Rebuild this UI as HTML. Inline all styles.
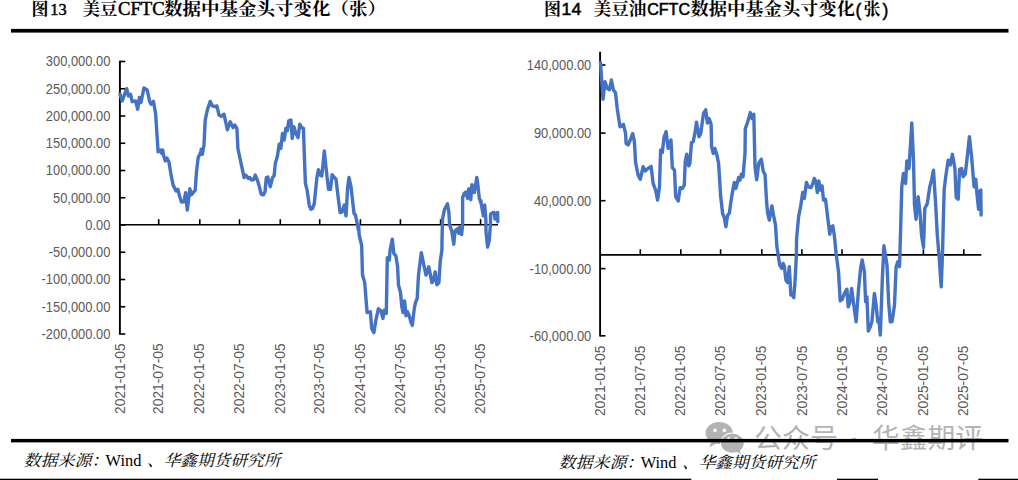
<!DOCTYPE html>
<html><head><meta charset="utf-8"><title>chart</title>
<style>
html,body{margin:0;padding:0;background:#fff;}
body{width:1018px;height:480px;overflow:hidden;font-family:"Liberation Sans",sans-serif;}
svg{display:block;}
.yl{font-family:"Liberation Sans",sans-serif;font-size:14.8px;fill:#595959;text-anchor:end;}
.xl{font-family:"Liberation Sans",sans-serif;font-size:14.4px;fill:#595959;text-anchor:end;}
.tb{font-family:"Liberation Serif",serif;fill:#000;}
.ts{font-family:"Liberation Sans",sans-serif;font-weight:bold;fill:#000;}
.sr{font-family:"Liberation Serif",serif;fill:#000;}
.tc{font-family:"Liberation Serif","Noto Serif CJK SC",serif;font-weight:bold;fill:#000;font-size:17px;}
.sc{font-family:"Liberation Serif","Noto Serif CJK SC",serif;font-style:italic;fill:#000;font-size:16px;}
.wm{font-family:"Liberation Sans","Noto Sans CJK SC",sans-serif;fill:#b3b3b3;font-size:27px;}
</style></head><body>
<svg width="1018" height="480" viewBox="0 0 1018 480" role="img" aria-label="图13 美豆CFTC数据中基金头寸变化（张） 图14 美豆油CFTC数据中基金头寸变化(张) 数据来源：Wind、华鑫期货研究所">
<rect width="1018" height="480" fill="#fff"/>
<g fill="#b3b3b3"><ellipse cx="719.2" cy="433" rx="13.6" ry="10.9"/><path d="M711.5,441 L709.3,447.3 L717,443.2 Z"/><ellipse cx="732.4" cy="443.2" rx="12.3" ry="10.6" fill="#fff"/><ellipse cx="732.4" cy="443.2" rx="11.3" ry="9.6"/><path d="M736,451.5 L740.8,454 L739.8,449 Z"/><circle cx="715" cy="430.4" r="1.8" fill="#fff"/><circle cx="724.4" cy="430.4" r="1.8" fill="#fff"/><circle cx="728.8" cy="438.6" r="1.4" fill="#fff"/><circle cx="735.9" cy="438.6" r="1.4" fill="#fff"/><text class="wm" x="754" y="447.5" textLength="84" lengthAdjust="spacingAndGlyphs">公众号</text><text class="wm" x="872" y="447.5" textLength="111" lengthAdjust="spacingAndGlyphs">华鑫期评</text><circle cx="854.2" cy="439.8" r="2.1"/></g><rect x="11" y="28.9" width="997.5" height="3.7" fill="#000"/><rect x="11" y="438.9" width="997.5" height="3.5" fill="#000"/><rect x="0" y="478.7" width="691.3" height="1.3" fill="#000"/><rect x="837" y="478.7" width="41" height="1.3" fill="#000"/><rect x="978.3" y="478.7" width="39.700000000000045" height="1.3" fill="#000"/><text class="tc" x="31.5" y="15.2">图</text><text class="tc" x="82.5" y="15.2" textLength="35" lengthAdjust="spacingAndGlyphs">美豆</text><text class="tc" x="164" y="15.2" textLength="222" lengthAdjust="spacingAndGlyphs">数据中基金头寸变化（张）</text><text class="tb" x="50.2" y="14.7" font-size="16.4px" stroke="#000" stroke-width="0.45">13</text><text class="tb" x="118.0" y="15.0" font-size="18.2px" textLength="46.6" lengthAdjust="spacingAndGlyphs" stroke="#000" stroke-width="0.45">CFTC</text><text class="tc" x="544" y="15.2">图</text><text class="tc" x="593.5" y="15.2" textLength="53" lengthAdjust="spacingAndGlyphs">美豆油</text><text class="ts" x="561.6" y="15.2" font-size="16.8px" textLength="19.6" lengthAdjust="spacingAndGlyphs" style="font-weight:normal" stroke="#000" stroke-width="0.5">14</text><text class="ts" x="647.2" y="15.2" font-size="16.8px" textLength="42.8" lengthAdjust="spacingAndGlyphs" style="font-weight:normal" stroke="#000" stroke-width="0.6">CFTC</text><text class="sc" x="23.5" y="466.3" textLength="85" lengthAdjust="spacingAndGlyphs">数据来源：</text><text class="sc" x="147" y="466.3" textLength="133.5" lengthAdjust="spacingAndGlyphs">、华鑫期货研究所</text><text class="sr" x="105.6" y="466.4" font-size="16.4px">Wind</text><g stroke="#000" stroke-width="1.6" fill="none"><path d="M119.9,60.7 V334.8" stroke-width="1.9"/><path d="M120,224.8 H497.9" stroke-width="1.6"/><path d="M120,61.5 h5.3"/><path d="M120,88.75 h5.3"/><path d="M120,116.0 h5.3"/><path d="M120,143.25 h5.3"/><path d="M120,170.5 h5.3"/><path d="M120,197.75 h5.3"/><path d="M120,225.0 h5.3"/><path d="M120,252.25 h5.3"/><path d="M120,279.5 h5.3"/><path d="M120,306.75 h5.3"/><path d="M120,334.0 h5.3"/><path d="M158.7,224.8 v-5.6"/><path d="M199.8,224.8 v-5.6"/><path d="M239.5,224.8 v-5.6"/><path d="M280.3,224.8 v-5.6"/><path d="M319.7,224.8 v-5.6"/><path d="M360.4,224.8 v-5.6"/><path d="M400.4,224.8 v-5.6"/><path d="M440.6,224.8 v-5.6"/><path d="M480.6,224.8 v-5.6"/></g><text class="yl" transform="translate(110.4,66.4) scale(0.872,1)">300,000.00</text><text class="yl" transform="translate(110.4,93.65) scale(0.872,1)">250,000.00</text><text class="yl" transform="translate(110.4,120.9) scale(0.872,1)">200,000.00</text><text class="yl" transform="translate(110.4,148.15) scale(0.872,1)">150,000.00</text><text class="yl" transform="translate(110.4,175.4) scale(0.872,1)">100,000.00</text><text class="yl" transform="translate(110.4,202.65) scale(0.872,1)">50,000.00</text><text class="yl" transform="translate(110.4,229.9) scale(0.872,1)">0.00</text><text class="yl" transform="translate(110.4,257.15) scale(0.872,1)">-50,000.00</text><text class="yl" transform="translate(110.4,284.4) scale(0.872,1)">-100,000.00</text><text class="yl" transform="translate(110.4,311.65) scale(0.872,1)">-150,000.00</text><text class="yl" transform="translate(110.4,338.9) scale(0.872,1)">-200,000.00</text><text class="xl" transform="translate(124.6,343.4) rotate(-90)" textLength="70.5" lengthAdjust="spacingAndGlyphs">2021-01-05</text><text class="xl" transform="translate(163.29999999999998,343.4) rotate(-90)" textLength="70.5" lengthAdjust="spacingAndGlyphs">2021-07-05</text><text class="xl" transform="translate(204.4,343.4) rotate(-90)" textLength="70.5" lengthAdjust="spacingAndGlyphs">2022-01-05</text><text class="xl" transform="translate(244.1,343.4) rotate(-90)" textLength="70.5" lengthAdjust="spacingAndGlyphs">2022-07-05</text><text class="xl" transform="translate(284.90000000000003,343.4) rotate(-90)" textLength="70.5" lengthAdjust="spacingAndGlyphs">2023-01-05</text><text class="xl" transform="translate(324.3,343.4) rotate(-90)" textLength="70.5" lengthAdjust="spacingAndGlyphs">2023-07-05</text><text class="xl" transform="translate(365.0,343.4) rotate(-90)" textLength="70.5" lengthAdjust="spacingAndGlyphs">2024-01-05</text><text class="xl" transform="translate(405.0,343.4) rotate(-90)" textLength="70.5" lengthAdjust="spacingAndGlyphs">2024-07-05</text><text class="xl" transform="translate(445.20000000000005,343.4) rotate(-90)" textLength="70.5" lengthAdjust="spacingAndGlyphs">2025-01-05</text><text class="xl" transform="translate(485.20000000000005,343.4) rotate(-90)" textLength="70.5" lengthAdjust="spacingAndGlyphs">2025-07-05</text><polyline points="120.0,94.2 122.2,100.9 126.7,88.7 128.4,95.9 130.5,94.2 132.2,101.7 135.5,100.9 137.7,109.2 139.4,97.5 141.0,102.5 143.9,88.0 147.2,90.0 149.7,101.7 151.1,104.2 153.4,101.4 155.6,113.4 158.1,151.8 160.6,150.1 161.8,153.5 162.8,150.1 163.4,155.0 165.3,160.9 166.9,158.0 168.9,161.7 171.1,175.1 173.1,185.1 176.1,190.9 177.8,189.2 179.5,195.9 181.5,202.1 184.0,201.8 185.6,192.6 187.3,210.1 189.8,188.7 191.5,194.8 195.2,190.1 196.5,171.7 198.2,157.5 201.0,151.7 201.1,149.3 202.3,154.3 204.0,145.1 205.2,120.1 207.3,110.1 210.2,101.4 212.4,105.9 214.9,106.7 216.9,105.9 219.0,115.1 221.2,116.4 224.0,114.2 227.4,129.8 230.2,121.8 233.2,127.6 234.9,125.1 236.9,128.4 237.9,148.5 240.7,161.7 244.1,177.6 245.8,175.1 248.3,178.4 249.9,177.6 251.6,180.1 253.6,179.7 255.3,175.1 257.4,180.1 259.1,185.9 261.3,194.3 263.3,194.8 265.0,191.8 266.3,177.6 267.8,177.1 270.3,186.7 272.5,177.6 274.1,175.9 275.3,163.4 277.5,155.8 279.2,144.3 280.8,148.5 282.5,133.4 284.2,140.1 285.8,128.4 287.4,130.6 288.7,120.9 290.9,120.0 292.2,138.4 293.9,126.7 295.9,133.4 298.1,137.6 299.7,124.2 301.7,127.6 303.4,128.4 304.7,165.1 305.4,183.4 307.1,190.1 309.2,205.1 310.9,209.3 312.6,208.4 314.3,203.4 316.8,178.4 318.4,169.7 320.1,175.0 321.8,175.9 324.3,150.9 325.9,166.7 328.5,189.2 330.5,189.2 332.1,174.7 334.3,177.5 336.0,179.2 338.1,196.7 340.1,212.6 342.1,211.8 344.3,205.1 346.0,215.9 347.7,186.7 349.0,177.5 351.0,186.7 354.0,213.4 355.5,215.1 358.5,230.1 358.6,225.0 359.2,235.0 361.7,245.9 362.5,275.1 364.7,282.6 364.7,282.5 367.1,312.6 368.7,312.1 370.4,311.8 371.7,328.5 373.9,332.6 375.9,320.1 378.4,308.7 380.9,310.9 382.9,318.4 384.3,310.1 386.3,313.4 387.3,257.6 389.3,260.1 390.1,250.1 392.3,239.2 393.8,253.4 395.9,255.9 397.6,266.8 398.5,285.1 400.5,292.5 401.8,306.7 403.1,312.6 404.6,300.9 406.0,315.9 407.6,311.8 409.3,315.9 411.0,322.6 412.3,325.4 414.3,308.4 415.5,302.6 417.2,298.4 418.5,275.1 421.3,252.6 423.5,263.4 426.0,275.1 428.8,266.8 431.9,282.6 433.2,280.9 435.2,271.8 436.9,284.8 438.9,282.6 440.2,261.7 441.9,250.1 442.0,240.1 442.5,219.2 444.6,209.2 447.5,203.8 448.8,211.7 449.6,225.0 451.7,230.9 453.8,244.2 455.1,230.9 456.3,229.6 457.6,228.8 458.8,233.4 459.6,227.5 461.6,234.6 462.6,225.0 462.6,197.5 462.7,197.6 464.2,193.4 465.9,192.1 467.6,198.4 468.8,188.8 470.8,199.7 471.9,184.6 474.3,192.6 476.8,177.5 478.0,185.9 479.3,198.4 480.9,202.6 481.0,200.8 481.1,203.4 483.4,215.9 484.7,205.0 485.9,220.1 486.0,231.7 487.6,247.1 489.3,240.1 490.5,223.4 490.6,214.2 492.2,213.0 493.9,212.5 495.1,219.2 496.8,213.0 497.6,212.5 497.8,221.7" fill="none" stroke="#4472C4" stroke-width="3.4" stroke-linejoin="round" stroke-linecap="round"/><g stroke="#000" stroke-width="1.6" fill="none"><path d="M600.1,51.7 V336.6" stroke-width="1.9"/><path d="M600.2,254.9 H981.3" stroke-width="1.6"/><path d="M600.2,65.0 h5.3"/><path d="M600.2,133.1 h5.3"/><path d="M600.2,200.7 h5.3"/><path d="M600.2,268.6 h5.3"/><path d="M600.2,335.8 h5.3"/><path d="M640.3,254.9 v-5.6"/><path d="M680.8,254.9 v-5.6"/><path d="M720.6,254.9 v-5.6"/><path d="M761.8,254.9 v-5.6"/><path d="M801.9,254.9 v-5.6"/><path d="M842.0,254.9 v-5.6"/><path d="M882.7,254.9 v-5.6"/><path d="M923.4,254.9 v-5.6"/><path d="M963.8,254.9 v-5.6"/></g><text class="yl" transform="translate(591.3000000000001,69.9) scale(0.872,1)">140,000.00</text><text class="yl" transform="translate(591.3000000000001,138.0) scale(0.872,1)">90,000.00</text><text class="yl" transform="translate(591.3000000000001,205.6) scale(0.872,1)">40,000.00</text><text class="yl" transform="translate(591.3000000000001,273.5) scale(0.872,1)">-10,000.00</text><text class="yl" transform="translate(591.3000000000001,340.7) scale(0.872,1)">-60,000.00</text><text class="xl" transform="translate(604.8000000000001,345.6) rotate(-90)" textLength="70.5" lengthAdjust="spacingAndGlyphs">2021-01-05</text><text class="xl" transform="translate(644.9,345.6) rotate(-90)" textLength="70.5" lengthAdjust="spacingAndGlyphs">2021-07-05</text><text class="xl" transform="translate(685.4,345.6) rotate(-90)" textLength="70.5" lengthAdjust="spacingAndGlyphs">2022-01-05</text><text class="xl" transform="translate(725.2,345.6) rotate(-90)" textLength="70.5" lengthAdjust="spacingAndGlyphs">2022-07-05</text><text class="xl" transform="translate(766.4,345.6) rotate(-90)" textLength="70.5" lengthAdjust="spacingAndGlyphs">2023-01-05</text><text class="xl" transform="translate(806.5,345.6) rotate(-90)" textLength="70.5" lengthAdjust="spacingAndGlyphs">2023-07-05</text><text class="xl" transform="translate(846.6,345.6) rotate(-90)" textLength="70.5" lengthAdjust="spacingAndGlyphs">2024-01-05</text><text class="xl" transform="translate(887.3000000000001,345.6) rotate(-90)" textLength="70.5" lengthAdjust="spacingAndGlyphs">2024-07-05</text><text class="xl" transform="translate(928.0,345.6) rotate(-90)" textLength="70.5" lengthAdjust="spacingAndGlyphs">2025-01-05</text><text class="xl" transform="translate(968.4,345.6) rotate(-90)" textLength="70.5" lengthAdjust="spacingAndGlyphs">2025-07-05</text><polyline points="600.5,62.5 603.0,99.2 605.0,81.7 607.2,88.4 609.4,89.7 611.4,80.0 613.4,90.1 615.5,92.6 617.2,108.4 620.0,126.8 623.4,124.3 625.6,133.5 626.1,143.4 628.1,145.0 630.6,139.2 632.7,133.7 634.4,141.7 635.6,162.6 638.1,175.1 640.3,179.3 643.1,166.7 645.1,170.9 648.1,168.4 651.1,166.4 653.1,183.4 655.6,190.1 657.6,200.1 659.5,186.8 660.6,150.0 662.3,152.5 664.0,137.5 666.1,131.7 668.1,148.4 671.0,140.0 672.3,167.6 674.5,170.1 675.7,196.8 678.2,201.0 680.2,187.6 682.3,188.5 684.3,185.1 685.2,161.7 686.8,154.2 688.7,165.9 689.9,163.4 691.5,142.5 693.2,141.7 695.2,131.7 696.5,122.1 699.0,136.8 700.7,133.5 703.5,113.4 705.7,109.8 707.4,123.1 709.1,118.5 711.1,124.3 711.6,146.7 713.2,153.4 714.9,148.4 716.9,155.1 718.6,163.4 720.7,196.8 722.6,213.4 724.3,217.6 725.9,226.8 727.6,215.1 729.3,213.4 730.9,201.7 733.1,188.4 734.3,182.5 735.9,188.4 737.6,181.7 738.6,177.6 740.0,180.1 741.3,174.3 743.0,176.8 745.0,153.4 745.3,128.5 747.5,122.6 750.3,112.6 752.0,118.5 753.8,114.3 755.0,166.7 756.7,179.8 758.7,163.4 761.3,159.2 763.3,171.8 765.0,174.3 766.7,203.5 767.7,213.4 769.3,220.1 771.9,205.9 773.5,215.1 775.5,225.1 776.9,246.8 778.5,256.8 779.7,265.0 781.8,268.4 783.1,263.4 784.3,265.9 785.9,280.1 787.6,282.6 789.3,266.7 790.9,295.1 792.6,294.2 793.8,297.6 795.1,280.1 796.4,255.0 796.6,238.5 798.6,216.7 800.6,206.7 802.7,192.5 804.4,198.4 806.4,182.5 808.4,186.8 810.9,187.6 812.6,184.3 814.3,178.4 815.9,181.8 817.3,192.6 818.8,180.9 820.5,190.1 822.1,185.9 823.5,200.1 825.5,199.3 827.8,218.4 829.8,234.3 831.1,226.8 832.8,225.9 834.5,236.8 836.1,253.5 838.5,271.7 840.2,300.9 842.2,299.3 844.4,293.4 846.9,289.2 848.2,306.8 849.9,302.6 851.6,288.4 853.6,303.4 856.1,321.8 858.6,288.4 860.6,268.4 862.2,260.0 864.4,271.7 865.6,301.8 866.9,296.8 868.3,331.0 870.3,326.8 871.9,321.8 874.4,293.4 876.1,305.1 877.8,321.8 878.9,318.5 880.3,335.0 882.3,280.1 883.9,245.8 887.0,265.0 888.6,301.8 890.3,321.8 892.0,321.8 894.5,305.1 896.1,266.7 897.8,261.7 899.5,266.7 900.6,230.1 901.8,186.7 903.4,173.5 905.6,183.5 906.8,160.9 909.0,168.5 911.8,123.0 913.5,160.1 914.5,205.1 916.1,219.2 918.1,196.7 920.1,213.4 921.5,235.1 923.5,247.6 924.8,208.4 927.3,203.4 929.8,186.7 931.5,180.1 933.5,170.1 935.7,205.1 937.3,235.1 939.0,255.2 941.2,286.8 942.5,253.5 943.5,213.4 944.2,189.2 945.7,176.8 948.2,160.1 950.2,165.1 952.4,154.3 954.9,168.5 956.2,197.5 958.2,199.2 959.6,169.3 961.6,168.5 963.2,176.8 965.2,174.3 966.9,160.1 969.4,136.7 971.6,156.8 974.1,186.8 975.8,179.3 976.9,193.4 978.6,209.2 979.9,190.9 980.8,190.0 981.1,215.1" fill="none" stroke="#4472C4" stroke-width="3.4" stroke-linejoin="round" stroke-linecap="round"/><text class="tc" x="690.5" y="15.2" textLength="164.5" lengthAdjust="spacingAndGlyphs">数据中基金头寸变化</text><text class="tc" x="863.5" y="15.2">张</text><text class="ts" x="855.6" y="15.6" font-size="17.5px" style="font-weight:normal" stroke="#000" stroke-width="0.45">(</text><text class="ts" x="882.4" y="15.6" font-size="17.5px" style="font-weight:normal" stroke="#000" stroke-width="0.45">)</text><text class="sc" x="558.5" y="467.5" textLength="85" lengthAdjust="spacingAndGlyphs">数据来源：</text><text class="sc" x="682" y="467.5" textLength="133.5" lengthAdjust="spacingAndGlyphs">、华鑫期货研究所</text><text class="sr" x="640.7" y="467.59999999999997" font-size="16.4px">Wind</text></svg></body></html>
